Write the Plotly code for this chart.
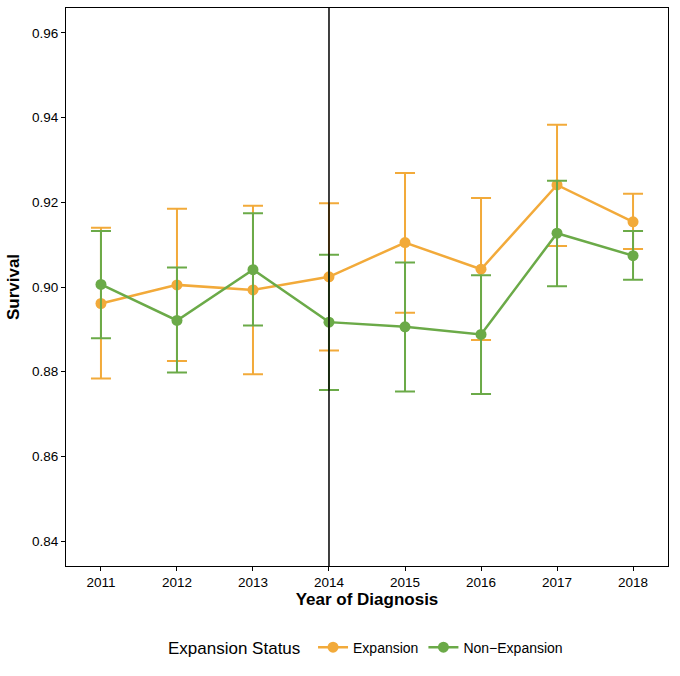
"""Survival by year of diagnosis, expansion vs non-expansion states."""

import plotly.graph_objects as go

years = [2011, 2012, 2013, 2014, 2015, 2016, 2017, 2018]

exp_surv = [0.8961, 0.9005, 0.8993, 0.9024, 0.9105, 0.9042, 0.9241, 0.9154]
exp_upper = [0.9140, 0.9185, 0.9192, 0.9198, 0.9269, 0.9210, 0.9383, 0.9220]
exp_lower = [0.8784, 0.8825, 0.8794, 0.8850, 0.8939, 0.8875, 0.9097, 0.9090]

non_surv = [0.9006, 0.8921, 0.9041, 0.8917, 0.8906, 0.8888, 0.9127, 0.9074]
non_upper = [0.9132, 0.9046, 0.9174, 0.9076, 0.9058, 0.9028, 0.9251, 0.9132]
non_lower = [0.8879, 0.8798, 0.8909, 0.8757, 0.8753, 0.8747, 0.9002, 0.9017]

policy_year = 2014

ORANGE = "#F2AA3A"
GREEN = "#6BAA48"

fig = go.Figure()

for name, surv, upper, lower, color in [
    ("Expansion", exp_surv, exp_upper, exp_lower, ORANGE),
    ("Non\u2212Expansion", non_surv, non_upper, non_lower, GREEN),
]:
    fig.add_trace(
        go.Scatter(
            x=years,
            y=surv,
            mode="lines+markers",
            name=name,
            line=dict(color=color, width=2.5),
            marker=dict(color=color, size=11),
            error_y=dict(
                type="data",
                symmetric=False,
                array=[u - s for u, s in zip(upper, surv)],
                arrayminus=[s - l for s, l in zip(surv, lower)],
                color=color,
                thickness=2,
                width=10,
            ),
        )
    )

fig.add_vline(x=policy_year, line=dict(color="black", width=1.5))

axis_common = dict(
    showgrid=False,
    zeroline=False,
    showline=True,
    linecolor="black",
    linewidth=1,
    mirror=True,
    ticks="outside",
    ticklen=4,
    tickcolor="black",
    tickfont=dict(size=13.5, color="black"),
)

fig.update_xaxes(
    title=dict(text="<b>Year of Diagnosis</b>", font=dict(size=17, color="black"), standoff=0),
    range=[2010.54, 2018.46],
    tickvals=years,
    **axis_common,
)
fig.update_yaxes(
    title=dict(text="<b>Survival</b>", font=dict(size=17, color="black"), standoff=8),
    range=[0.8341, 0.9659],
    tickvals=[0.84, 0.86, 0.88, 0.90, 0.92, 0.94, 0.96],
    tickformat=".2f",
    **axis_common,
)

fig.update_layout(
    width=680,
    height=676,
    margin=dict(l=66, r=12, t=8, b=110),
    plot_bgcolor="white",
    paper_bgcolor="white",
    font=dict(family="Liberation Sans, Arial, sans-serif", color="black"),
    legend=dict(
        orientation="h",
        x=0.5,
        xanchor="center",
        y=-0.147,
        yanchor="middle",
        title=dict(text="Expansion Status ", font=dict(size=17)),
        font=dict(size=14),
    ),
)

fig.write_html(
    "out.html",
    config={"displayModeBar": False},
    post_script="document.body.style.margin='0';document.body.style.overflow='hidden';",
)
